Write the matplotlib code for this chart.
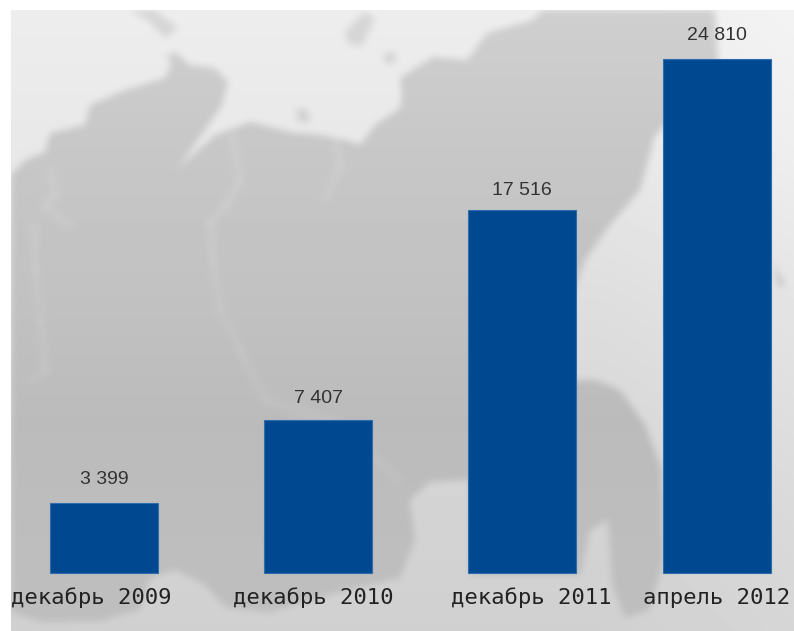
import numpy as np
import matplotlib
matplotlib.use("Agg")
import matplotlib.pyplot as plt
from matplotlib.path import Path

# chart data
months = ["декабрь 2009", "декабрь 2010", "декабрь 2011", "апрель 2012"]
values = [3399, 7407, 17516, 24810]
value_texts = ["3 399", "7 407", "17 516", "24 810"]

# layout, in pixels of the 794x631 picture
W, H = 794, 631
bar_x = [104, 318, 521.5, 716.5]
bar_w = 108
month_x = [91, 313, 531, 717]
value_gap = [23, 21, 20, 24]
base_y = 573
px_per_unit = 0.0207

# background map outlines (decoration, pixel coords)
land = [(11, 175), (25, 160), (45, 152), (50, 133), (85, 125), (90, 105), (125, 90), (165, 78),
        (172, 62), (165, 58), (175, 52), (190, 65), (215, 68), (228, 82), (222, 105), (205, 130),
        (178, 168), (215, 135), (250, 122), (290, 132), (320, 135), (345, 140), (360, 145),
        (375, 125), (400, 108), (402, 95), (400, 78), (433, 57), (467, 60), (487, 33), (533, 20),
        (543, 10), (715, 10), (718, 60), (680, 110), (655, 135), (640, 190), (610, 225), (585, 260),
        (570, 300), (565, 380), (595, 380), (620, 390), (645, 425), (662, 470), (664, 560),
        (650, 610), (625, 618), (612, 585), (608, 520), (590, 530), (580, 575), (470, 575),
        (470, 480), (430, 482), (410, 500), (415, 540), (400, 578), (340, 592), (270, 612),
        (225, 607), (205, 585), (175, 570), (150, 578), (140, 610), (100, 621), (40, 622), (11, 612)]
islands = [[(130, 10), (155, 10), (178, 28), (165, 38), (150, 22)],
           [(345, 32), (365, 12), (375, 18), (362, 46), (348, 44)],
           [(296, 108), (308, 110), (310, 122), (298, 122)],
           [(383, 54), (395, 52), (396, 62), (386, 64)],
           [(772, 262), (780, 275), (786, 285), (778, 288)]]
rivers = [[(232, 135), (240, 180), (225, 205), (210, 222), (212, 260), (220, 310), (240, 350),
           (265, 400), (330, 420), (400, 480)],
          [(335, 140), (340, 165), (325, 198)],
          [(50, 170), (55, 195), (45, 205), (68, 225)],
          [(33, 225), (35, 270), (40, 320), (45, 370), (30, 380)]]


def blur(a, n):
    # simple box blur, run both ways
    k = np.ones(n) / n
    for axis in (0, 1):
        a = np.apply_along_axis(lambda r: np.convolve(np.pad(r, n, mode="edge"), k, "same")[n:-n], axis, a)
    return a


yy, xx = np.mgrid[0:H, 0:W]
pts = np.c_[xx.ravel() + 0.5, yy.ravel() + 0.5]
mask = Path(land).contains_points(pts).reshape(H, W).astype(float)
for isl in islands:
    mask = np.maximum(mask, Path(isl).contains_points(pts).reshape(H, W) * 0.75)
for riv in rivers:
    for (x0, y0), (x1, y1) in zip(riv[:-1], riv[1:]):
        t = np.clip(((xx - x0) * (x1 - x0) + (yy - y0) * (y1 - y0)) / ((x1 - x0) ** 2 + (y1 - y0) ** 2), 0, 1)
        d = np.hypot(xx - x0 - t * (x1 - x0), yy - y0 - t * (y1 - y0))
        mask[d < 3.5] *= 0.82
mask = blur(blur(mask, 9), 7)

# vertical shading of sea and land
sea_tone = np.interp(yy, [10, 150, 300, 500, 631], [237, 232, 222, 212, 208])
land_tone = np.interp(yy, [10, 150, 300, 420, 575, 631], [207, 199, 193, 187, 190, 190])
# right edge is paler
sea_tone = sea_tone + np.interp(xx, [600, 794], [0, 6])
bg = sea_tone * (1 - mask) + land_tone * mask
bg[:10, :] = 255
bg[:, :11] = 255

fig = plt.figure(figsize=(W / 100, H / 100), dpi=100)
bg_ax = fig.add_axes([0, 0, 1, 1])
bg_ax.imshow(bg, cmap="gray", vmin=0, vmax=255, extent=(0, W, H, 0), aspect="auto", interpolation="nearest")
bg_ax.axis("off")

ax = fig.add_axes([0, 0, 1, 1])
ax.patch.set_alpha(0)
ax.axis("off")
ax.set_xlim(0, W)
ax.set_ylim(-(H - base_y) / px_per_unit, base_y / px_per_unit)

ax.bar(bar_x, values, width=bar_w, color="#004990", edgecolor="#2f6cab", linewidth=0.8)

for x, v, txt, gap in zip(bar_x, values, value_texts, value_gap):
    ax.annotate(txt, (x, v), xytext=(0, gap), textcoords="offset pixels", ha="center", va="center",
                family="Liberation Sans", fontsize=14, color="#333333")

for x, m in zip(month_x, months):
    ax.annotate(m, (x, 0), xytext=(0, -25), textcoords="offset pixels", ha="center", va="center",
                family="DejaVu Sans Mono", fontsize=16, color="#222222")

fig.savefig("out.png", dpi=100)
